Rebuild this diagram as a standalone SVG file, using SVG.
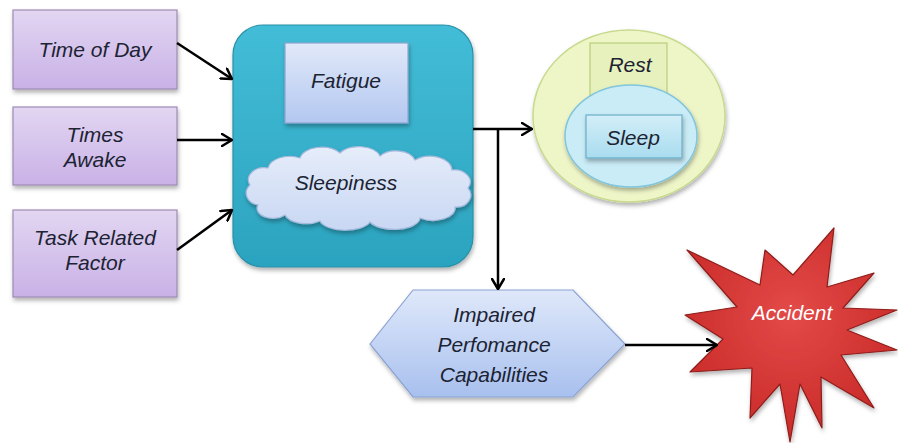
<svg xmlns="http://www.w3.org/2000/svg" width="898" height="443" viewBox="0 0 898 443">
  <defs>
    <linearGradient id="gPurple" x1="0" y1="0" x2="0" y2="1">
      <stop offset="0" stop-color="#e2d6f2"/>
      <stop offset="1" stop-color="#c9b1e6"/>
    </linearGradient>
    <linearGradient id="gTeal" x1="0" y1="0" x2="0" y2="1">
      <stop offset="0" stop-color="#43bdd7"/>
      <stop offset="1" stop-color="#2ba3bf"/>
    </linearGradient>
    <linearGradient id="gBlue" x1="0" y1="0" x2="0" y2="1">
      <stop offset="0" stop-color="#e1e9f9"/>
      <stop offset="1" stop-color="#b3c7f0"/>
    </linearGradient>
    <linearGradient id="gCloud" x1="0" y1="0" x2="0" y2="1">
      <stop offset="0" stop-color="#e6edfa"/>
      <stop offset="1" stop-color="#c8d7f3"/>
    </linearGradient>
    <linearGradient id="gHex" x1="0" y1="0" x2="0" y2="1">
      <stop offset="0" stop-color="#dfe8fa"/>
      <stop offset="1" stop-color="#a8c0ee"/>
    </linearGradient>
    <linearGradient id="gSleep" x1="0" y1="0" x2="0" y2="1">
      <stop offset="0" stop-color="#d3eef8"/>
      <stop offset="1" stop-color="#a9dcef"/>
    </linearGradient>
    <radialGradient id="gStar" cx="0.5" cy="0.4" r="0.6">
      <stop offset="0" stop-color="#e34a48"/>
      <stop offset="1" stop-color="#c92a28"/>
    </radialGradient>
    <filter id="shadow" x="-20%" y="-20%" width="140%" height="150%">
      <feDropShadow dx="1" dy="3" stdDeviation="2" flood-color="#000" flood-opacity="0.3"/>
    </filter>
    <marker id="arrow" viewBox="0 0 12 14" refX="11" refY="7" markerWidth="12" markerHeight="14" markerUnits="userSpaceOnUse" orient="auto">
      <path d="M1,1 L11,7 L1,13" fill="none" stroke="#000" stroke-width="2.5" stroke-linecap="round" stroke-linejoin="round"/>
    </marker>
    <style>
      text { font-family: "Liberation Sans", Arial, sans-serif; font-style: italic; font-size: 21px; fill: #1c2333; text-anchor: middle; }
      .factor { fill: url(#gPurple); stroke: #9d8bb5; stroke-width: 1.2; filter: url(#shadow); }
      .conn { fill: none; stroke: #000; stroke-width: 2.5; }
    </style>
  </defs>

  <!-- input factors -->
  <g id="time-of-day">
    <rect class="factor" x="13" y="10" width="164" height="79"/>
    <text x="95" y="57">Time of Day</text>
  </g>
  <g id="times-awake">
    <rect class="factor" x="13" y="107" width="164" height="78"/>
    <text x="95" y="142">Times</text>
    <text x="95" y="167">Awake</text>
  </g>
  <g id="task-related-factor">
    <rect class="factor" x="13" y="210" width="164" height="87"/>
    <text x="95" y="245">Task Related</text>
    <text x="95" y="270">Factor</text>
  </g>

  <!-- central state block -->
  <g id="state">
    <rect x="233" y="25" width="240" height="242" rx="30" ry="30" fill="url(#gTeal)" stroke="#2a90a8" stroke-width="1.2" filter="url(#shadow)"/>
    <g id="fatigue">
      <rect x="285" y="43" width="123" height="80" fill="url(#gBlue)" stroke="#8ea4cf" stroke-width="1.2" filter="url(#shadow)"/>
      <text x="346" y="88">Fatigue</text>
    </g>
    <g id="sleepiness">
      <path d="M258,205 A14,12 0 0 1 250,185 A16,12 0 0 1 268,168 A22,14 0 0 1 300,158 A22,13 0 0 1 340,153 A22,13 0 0 1 380,156 A20,13 0 0 1 415,160 A22,14 0 0 1 452,170 A16,12 0 0 1 468,188 A14,12 0 0 1 455,207 A22,12 0 0 1 420,218 A26,12 0 0 1 370,222 A26,12 0 0 1 320,221 A22,12 0 0 1 285,215 A16,10 0 0 1 258,205 Z" fill="url(#gCloud)" stroke="#a7b9dc" stroke-width="1.2" filter="url(#shadow)"/>
      <text x="346" y="190">Sleepiness</text>
    </g>
  </g>

  <!-- rest / sleep -->
  <g id="rest">
    <ellipse cx="629" cy="116" rx="96" ry="86" fill="#eef6c8" stroke="#c7da8e" stroke-width="1.5" filter="url(#shadow)"/>
    <rect x="590" y="43" width="77" height="60" fill="#e6f1bd" stroke="#b9cd7c" stroke-width="1.2"/>
    <text x="630" y="72">Rest</text>
  </g>
  <g id="sleep">
    <ellipse cx="631" cy="136" rx="66" ry="51" fill="#c9ecf7" stroke="#82c5dc" stroke-width="1.5" filter="url(#shadow)"/>
    <rect x="586" y="115" width="96" height="43" fill="url(#gSleep)" stroke="#6aaec8" stroke-width="1.2" filter="url(#shadow)"/>
    <text x="633" y="145">Sleep</text>
  </g>

  <!-- impaired performance -->
  <g id="impaired-performance">
    <polygon points="370,344 413,290 573,290 625,344 573,397 413,397" fill="url(#gHex)" stroke="#8aa3d2" stroke-width="1.2" filter="url(#shadow)"/>
    <text x="494" y="322">Impaired</text>
    <text x="494" y="352">Perfomance</text>
    <text x="494" y="382">Capabilities</text>
  </g>

  <!-- accident -->
  <g id="accident">
    <polygon points="834,228 827,287 874,273 843,308 897,310 847,330 897,350 841,355 874,408 821,377 822,428 800,384 790,442 780,384 750,418 752,368 690,372 723,339 685,315 737,307 687,250 760,285 765,250 793,275" fill="url(#gStar)" stroke="#8e1c1a" stroke-width="1.2" stroke-linejoin="round" filter="url(#shadow)"/>
    <text x="792" y="320" style="fill:#ffffff">Accident</text>
  </g>

  <!-- connectors -->
  <g id="connectors">
    <line class="conn" x1="177" y1="43" x2="232" y2="79" marker-end="url(#arrow)"/>
    <line class="conn" x1="177" y1="140" x2="232" y2="140" marker-end="url(#arrow)"/>
    <line class="conn" x1="177" y1="250" x2="232" y2="210" marker-end="url(#arrow)"/>
    <line class="conn" x1="473" y1="129" x2="532" y2="129" marker-end="url(#arrow)"/>
    <line class="conn" x1="498" y1="129" x2="498" y2="289" marker-end="url(#arrow)"/>
    <line class="conn" x1="625" y1="345" x2="717" y2="345" marker-end="url(#arrow)"/>
  </g>
</svg>
